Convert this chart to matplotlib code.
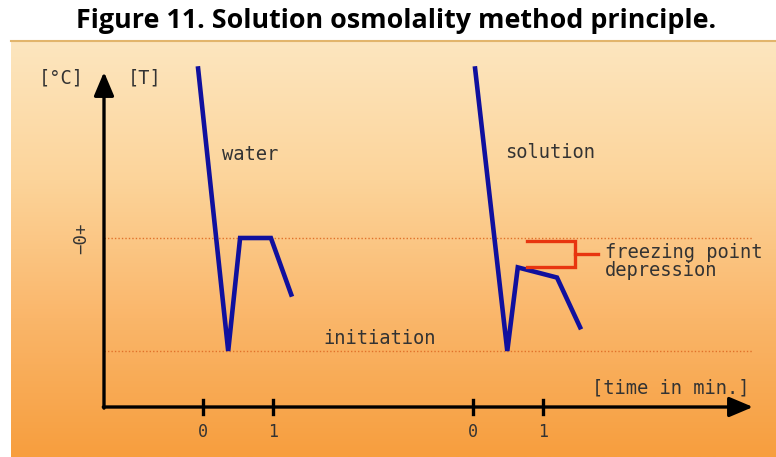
import numpy as np
import matplotlib
matplotlib.use("Agg")
import matplotlib.pyplot as plt
from matplotlib.colors import LinearSegmentedColormap

# ---- data (time in min, temperature in relative units; 0 = freezing point of water)
water_t = [-0.07, 0.36, 0.53, 0.97, 1.26]
water_T = [1.50, -1.00, 0.00, 0.00, -0.50]
solution_offset = 3.857          # where the second time axis starts
solution_t = [0.03, 0.49, 0.64, 1.20, 1.53]
solution_T = [1.50, -1.00, -0.26, -0.35, -0.79]
freeze_water = 0.0
initiation_level = -1.0
tick_labels = ["0", "1"]

# ---- figure / pixel mapping
W, H = 776, 457
fig = plt.figure(figsize=(W / 100, H / 100), dpi=100)
fig.patch.set_facecolor("white")
ax = fig.add_axes([0, 0, 1, 1])
px_per_min, x0_px = 70.0, 203.0
px_per_T, y0_px = 113.0, 238.0
ax.set_xlim((0 - x0_px) / px_per_min, (W - x0_px) / px_per_min)
ax.set_ylim((y0_px - H) / px_per_T, (y0_px - 0) / px_per_T)
ax.axis("off")

# background gradient panel
cmap = LinearSegmentedColormap.from_list("bg", ["#fde6bf", "#fcd49a", "#fab66a", "#f79e3e"])
grad = np.linspace(0, 1, 256).reshape(-1, 1)
ax.imshow(grad, cmap=cmap, aspect="auto", extent=[11 / W, 1, 0, 1 - 41 / H],
          transform=ax.transAxes, zorder=0, origin="upper")
ax.plot([11 / W, 1], [1 - 41 / H, 1 - 41 / H], transform=ax.transAxes,
        color="#e2b56c", lw=1.5, zorder=1)

# title
fig.text(0.511, 1 - 21 / H, "Figure 11. Solution osmolality method principle.",
         ha="center", va="center", fontsize=19.4, fontweight="bold",
         family="Open Sans", color="black")

def px2x(p):
    return (p - x0_px) / px_per_min

def px2y(p):
    return (y0_px - p) / px_per_T

ox, oy = px2x(104), px2y(407)
x_end = px2x(753)
y_end = px2y(72)

# dotted reference lines
for lvl in (freeze_water, initiation_level):
    ax.plot([ox, px2x(752)], [lvl, lvl], color="#e0712a", lw=1.0,
            ls=(0, (1, 1.5)), zorder=2)

# axes with arrows
arrow_kw = dict(arrowstyle="-|>,head_length=0.9,head_width=0.38", lw=2.4,
                color="black", shrinkA=0, shrinkB=0, mutation_scale=16)
ax.annotate("", xy=(ox, y_end), xytext=(ox, oy - 0.01), arrowprops=arrow_kw, zorder=3)
ax.annotate("", xy=(x_end, oy), xytext=(ox - 0.01, oy), arrowprops=arrow_kw, zorder=3)

# ticks
tick_pos = [0, 1, solution_offset + 0, solution_offset + 1]
tick_lbl = tick_labels + tick_labels
for tp, tl in zip(tick_pos, tick_lbl):
    ax.plot([tp, tp], [oy - 0.065, oy + 0.065], color="black", lw=2.4, zorder=3)
    ax.text(tp, px2y(432), tl, ha="center", va="center", fontsize=12,
            family="DejaVu Sans Mono", color="#333333")

# curves
blue = "#10109e"
ax.plot(water_t, water_T, color=blue, lw=3.3, solid_joinstyle="miter", zorder=4)
ax.plot([solution_offset + t for t in solution_t], solution_T, color=blue, lw=3.3,
        solid_joinstyle="miter", zorder=4)

# freezing point depression bracket
red = "#e8350f"
b_top = freeze_water - 0.03
b_bot = solution_T[2]
bx0, bx1, bx2 = px2x(527), px2x(575), px2x(598)
ax.plot([bx0, bx1, bx1, bx0], [b_top, b_top, b_bot, b_bot], color=red, lw=2.4,
        solid_joinstyle="miter", zorder=4)
ax.plot([bx1, bx2], [(b_top + b_bot) / 2] * 2, color=red, lw=2.4, zorder=4)

# labels
mono = dict(family="DejaVu Sans Mono", color="#333333", fontsize=13.5)
ax.text(px2x(222), px2y(155), "water", ha="left", va="center", **mono)
ax.text(px2x(505), px2y(153), "solution", ha="left", va="center", **mono)
ax.text(px2x(323), px2y(338), "initiation", ha="left", va="center", **mono)
ax.text(px2x(750), px2y(388), "[time in min.]", ha="right", va="center", **mono)
ax.text(px2x(605), px2y(252), "freezing point", ha="left", va="center", **mono)
ax.text(px2x(605), px2y(270), "depression", ha="left", va="center", **mono)
ax.text(px2x(84), px2y(78), "[°C]", ha="right", va="center", **mono)
ax.text(px2x(128), px2y(78), "[T]", ha="left", va="center", **mono)
ax.text(px2x(81), px2y(238), "−0+", ha="center", va="center", rotation=90,
        family="DejaVu Sans Mono", color="#333333", fontsize=12.5)

fig.savefig("out.png", dpi=100)
